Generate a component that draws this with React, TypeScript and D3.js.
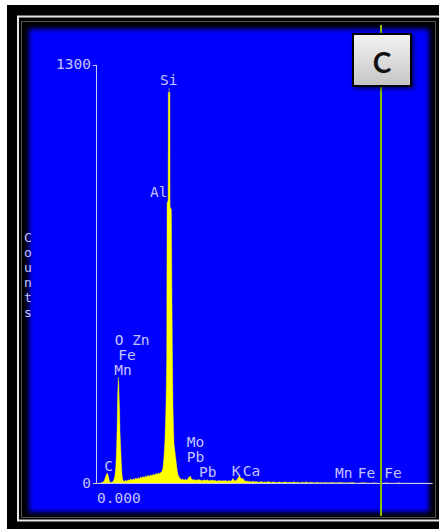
import React from "react";
import * as d3 from "d3";

// EDS spectrum: [energy keV, counts]
const spectrum: [number, number][] = [
  [0.05, 0], [0.10, 2], [0.15, 4], [0.18, 8], [0.21, 18], [0.24, 30], [0.26, 32], [0.28, 26], [0.30, 12],
  [0.32, 5], [0.34, 3], [0.37, 4], [0.40, 8], [0.42, 14], [0.44, 26], [0.46, 55], [0.475, 100], [0.49, 170],
  [0.50, 250], [0.51, 300], [0.52, 330], [0.53, 310], [0.54, 265], [0.55, 230], [0.56, 160], [0.575, 115],
  [0.59, 70], [0.605, 30], [0.62, 14], [0.64, 8], [0.66, 6],
  [0.69, 10], [0.72, 7], [0.75, 12], [0.78, 9], [0.81, 14], [0.84, 11], [0.87, 15], [0.90, 12], [0.93, 17],
  [0.96, 14], [0.99, 18], [1.02, 15], [1.05, 20], [1.08, 17], [1.11, 22], [1.14, 18], [1.17, 24], [1.20, 20],
  [1.23, 26], [1.26, 22], [1.29, 27], [1.32, 24], [1.35, 29], [1.38, 26], [1.41, 31], [1.44, 28], [1.47, 33],
  [1.50, 30], [1.53, 34], [1.56, 38],
  [1.583, 50], [1.607, 85], [1.631, 140], [1.655, 250], [1.671, 380], [1.680, 870], [1.705, 880],
  [1.710, 1215], [1.748, 1215], [1.752, 860], [1.783, 850], [1.795, 600], [1.807, 420], [1.821, 240],
  [1.845, 124], [1.881, 85], [1.893, 72], [1.917, 45], [1.940, 28], [1.964, 20],
  [1.99, 16], [2.02, 12], [2.05, 14], [2.08, 11], [2.11, 13], [2.14, 10], [2.17, 14], [2.20, 19], [2.23, 23],
  [2.26, 15], [2.29, 11], [2.32, 13], [2.35, 9], [2.38, 12], [2.41, 10], [2.44, 13], [2.47, 9], [2.50, 11],
  [2.53, 8], [2.56, 12], [2.59, 10], [2.62, 9], [2.65, 12], [2.68, 8], [2.71, 10], [2.74, 9], [2.77, 11],
  [2.80, 8], [2.83, 10], [2.86, 7], [2.89, 9], [2.92, 8], [2.95, 10], [2.98, 7], [3.01, 9], [3.04, 8],
  [3.07, 10], [3.10, 7], [3.13, 8], [3.16, 9], [3.19, 7], [3.22, 10], [3.25, 16], [3.28, 9], [3.31, 8],
  [3.34, 12], [3.37, 17], [3.40, 24], [3.43, 19], [3.46, 14], [3.49, 16], [3.52, 9], [3.55, 7], [3.58, 8],
  [3.61, 6], [3.64, 7], [3.67, 5], [3.70, 6], [3.73, 7], [3.76, 5], [3.80, 6], [3.84, 5], [3.88, 4],
  [3.92, 6], [3.96, 4], [4.00, 5], [4.05, 4], [4.10, 6], [4.15, 3], [4.20, 5], [4.25, 4], [4.30, 3],
  [4.35, 5], [4.40, 3], [4.45, 4], [4.50, 5], [4.55, 3], [4.60, 4], [4.65, 3], [4.70, 5], [4.75, 3],
  [4.80, 4], [4.85, 2], [4.90, 4], [4.95, 3], [5.00, 5], [5.05, 2], [5.10, 4], [5.15, 3], [5.20, 2],
  [5.25, 4], [5.30, 2], [5.35, 3], [5.40, 2], [5.45, 3], [5.50, 2], [5.60, 3], [5.70, 2], [5.80, 3],
  [5.90, 2], [6.00, 2], [6.10, 3], [6.20, 1], [6.30, 2], [6.40, 2], [6.50, 1], [6.60, 2], [6.70, 1],
  [6.80, 1], [6.90, 2], [7.00, 1], [7.10, 1], [7.20, 2], [7.30, 1], [7.40, 1], [7.50, 1], [7.60, 1],
  [7.70, 1], [7.80, 1], [7.90, 1], [8.00, 0],
];

// Peak labels: text, energy (keV, left edge), counts (baseline)
const labelTexts = ["Si", "Al", "O Zn", "Fe", "Mn", "C", "Mo", "Pb", "Pb", "K", "Ca", "Mn", "Fe", "Fe"];
const labelKeV = [1.512, 1.274, 0.433, 0.519, 0.424, 0.186, 2.148, 2.148, 2.44, 3.219, 3.481, 5.679, 6.219, 6.852];
const labelCounts = [1238, 890, 430, 384, 337, 39, 113, 67, 20, 23, 23, 17, 17, 17];

const energyDomain = [0, 8];
const countDomain = [0, 1300];
const yTickLabels = ["1300", "0"];
const xTickLabel = "0.000";
const yAxisTitle = "Counts";
const cursorKeV = 6.774;
const panelLetter = "C";

export default function App() {
  const x = d3.scaleLinear().domain(energyDomain).range([96.5, 432.5]);
  const y = d3.scaleLinear().domain(countDomain).range([483.5, 65]);
  const area = d3
    .area<[number, number]>()
    .x((d) => x(d[0]))
    .y0(y(0))
    .y1((d) => y(d[1]));
  const mono = "'DejaVu Sans Mono', monospace";
  const txt = "#c4c4ff";
  const siX = x(1.729);

  return (
    <svg width={439} height={529} style={{ position: "absolute", left: 0, top: 0 }}>
      <defs>
        <clipPath id="plotClip">
          <rect x={25} y={25} width={408} height={491} />
        </clipPath>
        <filter id="blur" x="-10%" y="-10%" width="120%" height="120%">
          <feGaussianBlur stdDeviation={2.5} />
        </filter>
        <linearGradient id="boxGrad" x1="0" y1="0" x2="0" y2="1">
          <stop offset="0" stopColor="#f4f4f4" />
          <stop offset="1" stopColor="#c4c4c4" />
        </linearGradient>
        <filter id="shadow" x="-30%" y="-30%" width="160%" height="160%">
          <feDropShadow dx={2} dy={2} stdDeviation={2} floodColor="#000" floodOpacity={0.6} />
        </filter>
      </defs>
      <rect x={0} y={0} width={439} height={529} fill="#fff" />
      <rect x={7} y={5} width={440} height={530} fill="#000" />
      <rect x={18} y={16.5} width={440} height={504} fill="none" stroke="#e6e6e6" strokeWidth={2} />
      <rect x={21.5} y={21.5} width={414} height={496} fill="#000" stroke="#555" strokeWidth={1} />
      <rect x={25} y={25} width={408} height={491} fill="#0000ff" />
      <rect
        x={25}
        y={25}
        width={408}
        height={491}
        fill="none"
        stroke="#000"
        strokeWidth={8}
        filter="url(#blur)"
        clipPath="url(#plotClip)"
      />

      {/* spectrum */}
      <path d={area(spectrum) || ""} fill="#ffff00" stroke="#ffff00" strokeWidth={0.4} />

      {/* axes */}
      <line x1={96.5} x2={96.5} y1={y(1300)} y2={y(0)} stroke="#c8c8f0" strokeWidth={1} />
      <line x1={93} x2={96.5} y1={y(1300) + 0.5} y2={y(1300) + 0.5} stroke="#c8c8f0" strokeWidth={1} />
      <line x1={93} x2={432.5} y1={y(0)} y2={y(0)} stroke="#c8c8e0" strokeWidth={1} />
      <text x={91} y={y(1300) + 4} textAnchor="end" fontFamily={mono} fontSize={14.5} fill={txt}>
        {yTickLabels[0]}
      </text>
      <text x={91} y={y(0) + 4.5} textAnchor="end" fontFamily={mono} fontSize={14.5} fill={txt}>
        {yTickLabels[1]}
      </text>
      <text x={x(0) + 0.5} y={503} fontFamily={mono} fontSize={14.5} fill={txt}>
        {xTickLabel}
      </text>
      <text fontFamily={mono} fontSize={13} fill={txt} textAnchor="middle">
        {yAxisTitle.split("").map((ch, i) => (
          <tspan key={i} x={28} y={242 + i * 15}>
            {ch}
          </tspan>
        ))}
      </text>

      {/* Si pointer */}
      <line x1={siX} x2={siX} y1={88} y2={y(1215)} stroke="#8080a0" strokeWidth={1} />

      {/* peak labels */}
      {labelTexts.map((t, i) => (
        <text
          key={i}
          x={x(labelKeV[i])}
          y={y(labelCounts[i])}
          fontFamily={mono}
          fontSize={14.5}
          fill={txt}
          xmlSpace="preserve"
          style={{ whiteSpace: "pre" }}
        >
          {t}
        </text>
      ))}

      {/* cursor */}
      <line x1={x(cursorKeV)} x2={x(cursorKeV)} y1={25} y2={516} stroke="#8cc000" strokeWidth={2} />

      {/* panel letter box */}
      <g filter="url(#shadow)">
        <rect x={353} y={34} width={58} height={52} fill="url(#boxGrad)" stroke="#000" strokeWidth={2} />
      </g>
      <text
        x={382}
        y={73}
        textAnchor="middle"
        fontFamily="Lato, 'Open Sans', sans-serif"
        fontWeight="bold"
        fontSize={28}
        fill="#111"
      >
        {panelLetter}
      </text>
    </svg>
  );
}
